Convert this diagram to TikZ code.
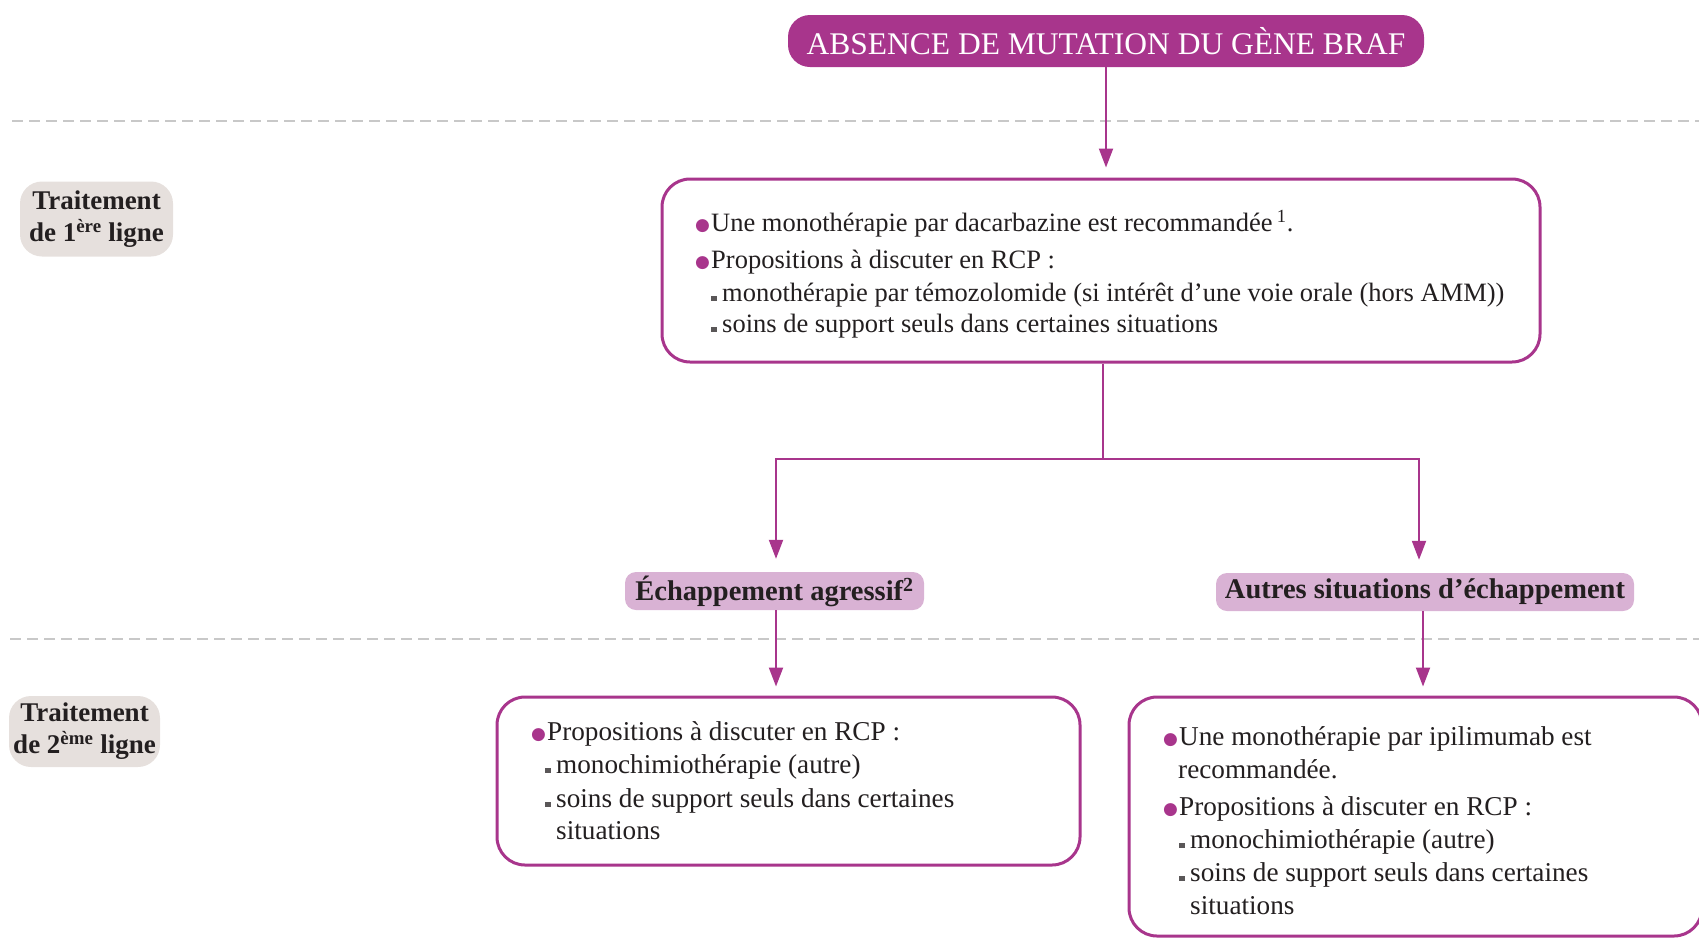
\documentclass[tikz,border=0pt]{standalone}
\usepackage{fontspec}
\setmainfont{Liberation Serif}
\newfontfamily\symf{DejaVu Sans}
\usetikzlibrary{arrows.meta}
\definecolor{plum}{HTML}{A8358C}
\definecolor{lilac}{HTML}{D9B2D4}
\definecolor{stone}{HTML}{E6E0DD}
\definecolor{ink}{HTML}{231F20}
\definecolor{rulegray}{HTML}{C8C8C8}
% round and square list markers
\newcommand\pdot{\makebox[16pt][l]{\raisebox{1pt}{\textcolor{plum}{\symf\fontsize{17}{17}\selectfont ●}}}}
\newcommand\psq{\makebox[11pt][l]{\textcolor{ink!75}{\rule{5.5pt}{5.5pt}}}}
\begin{document}
\begin{tikzpicture}[x=1pt,y=-1pt,
  head/.style={fill=plum, rounded corners=22pt, text=white, inner sep=0pt,
    font=\fontsize{31.5}{34}\selectfont},
  panel/.style={draw=plum, line width=3pt, rounded corners=28pt, fill=white, inner sep=0pt},
  tag/.style={fill=lilac, rounded corners=11pt, text=ink, inner sep=0pt,
    font=\bfseries\fontsize{28.5}{30}\selectfont},
  phase/.style={fill=stone, rounded corners=22pt, text=ink, inner sep=0pt, align=center,
    font=\bfseries\fontsize{27}{32}\selectfont},
  txt/.style={anchor=west, inner sep=0pt, text=ink, text height=0.7em, text depth=0.22em,
    font=\fontsize{26.5}{30}\selectfont},
  txtb/.style={txt, font=\fontsize{27.2}{30}\selectfont},
  wire/.style={draw=plum, line width=2pt},
  link/.style={wire, -{Triangle[length=19pt,width=14pt]}},
  sep/.style={draw=rulegray, line width=2.5pt, dash pattern=on 11pt off 6pt}]
\useasboundingbox (0,0) rectangle (1699,938);
\clip (0,0) rectangle (1699,938);

% phase separators
\draw[sep] (12,121) -- (1699,121);
\draw[sep] (10,639) -- (1699,639);

% phase labels
\node[phase, minimum width=153pt, minimum height=75pt] (ph1) at (96.5,219)
  {Traitement\\de 1\textsuperscript{ère} ligne};
\node[phase, minimum width=151pt, minimum height=71pt] (ph2) at (84.5,731.5)
  {Traitement\\de 2\textsuperscript{ème} ligne};

% title
\node[head, minimum width=636pt, minimum height=52pt] (braf) at (1106,41)
  {ABSENCE DE MUTATION DU GÈNE BRAF};

% first-line panel
\node[panel, minimum width=878pt, minimum height=183pt] (p1) at (1101,270.5) {};
\node[txt] (p1a) at (695,229) {\pdot Une monothérapie par dacarbazine est recommandée\,\textsuperscript{1}.};
\node[txt] (p1b) at (695,266) {\pdot Propositions à discuter en RCP :};
\node[txt] (p1c) at (711,299) {\psq monothérapie par témozolomide (si intérêt d’une voie orale (hors AMM))};
\node[txt] (p1d) at (711,330) {\psq soins de support seuls dans certaines situations};

% escape situations
\node[tag, minimum width=299pt, minimum height=38pt] (esc) at (774.5,591)
  {Échappement agressif\textsuperscript{2}};
\node[tag, minimum width=418pt, minimum height=38pt] (oth) at (1425,592)
  {Autres situations d’échappement};

% second-line panels
\node[panel, minimum width=583pt, minimum height=168pt] (p2) at (788.5,781) {};
\node[txtb] (p2a) at (531,738) {\pdot Propositions à discuter en RCP :};
\node[txtb] (p2b) at (545,771) {\psq monochimiothérapie (autre)};
\node[txtb] (p2c) at (545,805) {\psq soins de support seuls dans certaines};
\node[txtb] (p2d) at (556,837) {situations};

\node[panel, minimum width=573pt, minimum height=239pt] (p3) at (1415.5,816.5) {};
\node[txtb] (p3a) at (1163,743) {\pdot Une monothérapie par ipilimumab est};
\node[txtb] (p3b) at (1178,776) {recommandée.};
\node[txtb] (p3c) at (1163,813) {\pdot Propositions à discuter en RCP :};
\node[txtb] (p3d) at (1179,846) {\psq monochimiothérapie (autre)};
\node[txtb] (p3e) at (1179,879) {\psq soins de support seuls dans certaines};
\node[txtb] (p3f) at (1190,912) {situations};

% connectors
\coordinate (split) at (1103,459);
\draw[link, shorten >=10pt] (braf.south) -- (braf.south |- p1.north);
\draw[wire] (p1.south -| split) -- (split);
\draw[link, shorten >=13pt] (split) -| ([xshift=1.5pt]esc.north);
\draw[link, shorten >=13pt] (split) -| ([xshift=-6pt]oth.north);
\draw[link, shorten >=9pt] ([xshift=1.5pt]esc.south) -- ([xshift=1.5pt]esc.south |- p2.north);
\draw[link, shorten >=9pt] ([xshift=-2pt]oth.south) -- ([xshift=-2pt]oth.south |- p3.north);
\end{tikzpicture}
\end{document}
